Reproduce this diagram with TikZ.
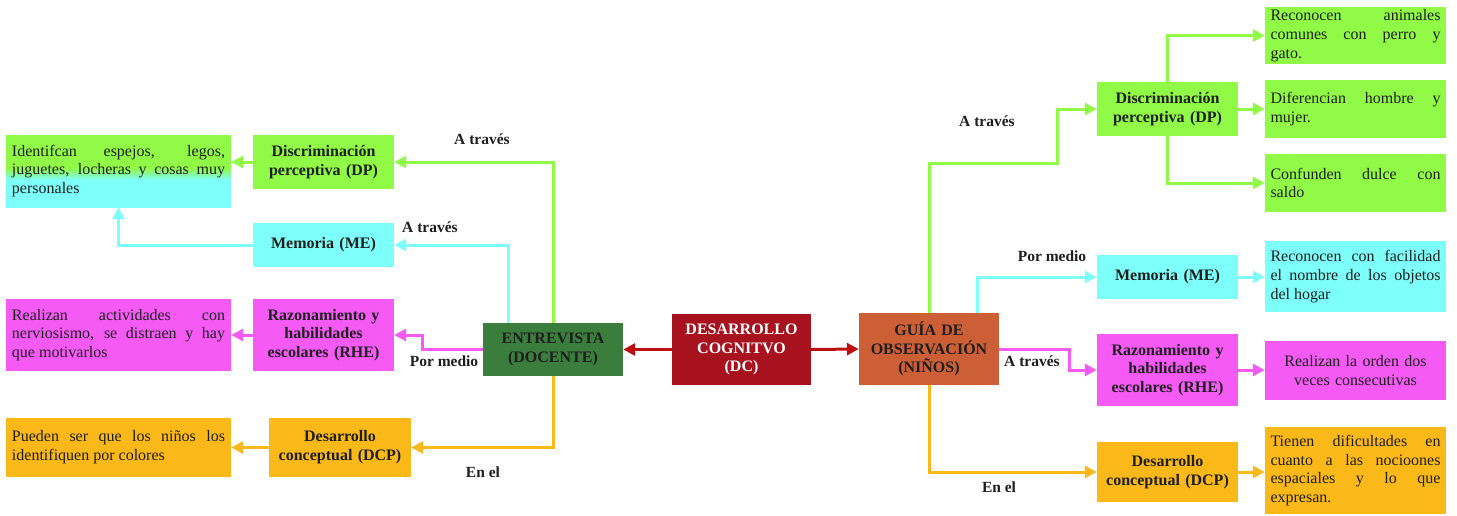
\documentclass[tikz,border=0pt]{standalone}
\usepackage{fontspec}
\setmainfont{Liberation Serif}
\usetikzlibrary{arrows.meta}
\definecolor{gr}{RGB}{145,250,70}
\definecolor{cy}{RGB}{125,255,250}
\definecolor{mg}{RGB}{245,90,245}
\definecolor{orr}{RGB}{250,185,25}
\definecolor{eg}{RGB}{58,125,60}
\definecolor{dr}{RGB}{168,18,30}
\definecolor{gb}{RGB}{205,95,55}
\definecolor{darr}{RGB}{190,15,15}
\definecolor{txt}{RGB}{30,30,30}
\pgfdeclareverticalshading{grcy}{100bp}{color(0bp)=(cy); color(44bp)=(cy); color(52bp)=(gr); color(100bp)=(gr)}
\tikzset{
  bx/.style={rectangle, inner sep=0pt, draw=none, text=txt, font=\fontsize{16}{18.8}\selectfont},
  tb/.style={bx, align=justify},
  lb/.style={bx, align=center, font=\fontsize{16}{18.8}\selectfont\bfseries},
  lab/.style={text=txt, inner sep=0pt, font=\fontsize{15.5}{18}\selectfont\bfseries},
  arr/.style={-{Triangle[length=12pt,width=12pt]}, line width=3pt},
}
\begin{document}
\begin{tikzpicture}[x=1pt,y=-1pt]
\useasboundingbox (0,0) rectangle (1457,515);
% ---------- left side ----------
\node[tb, shading=grcy, minimum width=225pt, minimum height=72pt, text width=213pt] (idL) at (118.5,171)
  {Identifcan espejos, legos,\linebreak juguetes, locheras y cosas muy\linebreak personales};
\node[lb, fill=gr, minimum width=141pt, minimum height=54pt, text width=131pt] (dpL) at (323.5,162)
  {Discriminación\\perceptiva (DP)};
\node[lb, fill=cy, minimum width=141pt, minimum height=44pt, text width=131pt] (meL) at (323.5,245)
  {Memoria (ME)};
\node[tb, fill=mg, minimum width=225pt, minimum height=72pt, text width=213pt] (reL) at (118.5,335)
  {Realizan actividades con\linebreak nerviosismo, se distraen y hay\linebreak que motivarlos};
\node[lb, fill=mg, minimum width=141pt, minimum height=72pt, text width=131pt] (rheL) at (323.5,335)
  {Razonamiento y\\habilidades\\escolares (RHE)};
\node[tb, fill=orr, minimum width=225pt, minimum height=59pt, text width=213pt] (puL) at (118.5,447.5)
  {Pueden ser que los niños los\linebreak identifiquen por colores};
\node[lb, fill=orr, minimum width=142pt, minimum height=59pt, text width=134pt] (dcpL) at (340,447.5)
  {Desarrollo\\conceptual (DCP)};
% ---------- centre ----------
\node[lb, fill=eg, minimum width=140pt, minimum height=53pt, text width=134pt] (ent) at (553,349.5)
  {ENTREVISTA\\(DOCENTE)};
\node[lb, fill=dr, text=white, minimum width=139pt, minimum height=71pt, text width=133pt] (dc) at (741.5,349.5)
  {DESARROLLO\\COGNITVO\\(DC)};
\node[lb, fill=gb, minimum width=140pt, minimum height=72pt, text width=136pt] (gui) at (929,349)
  {GUÍA DE\\OBSERVACIÓN\\(NIÑOS)};
% ---------- right side ----------
\node[lb, fill=gr, minimum width=141pt, minimum height=54pt, text width=131pt] (dpR) at (1167.5,109)
  {Discriminación\\perceptiva (DP)};
\node[tb, fill=gr, minimum width=181pt, minimum height=57pt, text width=170pt] (rec) at (1355.5,35.5)
  {Reconocen animales\linebreak comunes con perro y\linebreak gato.};
\node[tb, fill=gr, minimum width=181pt, minimum height=58pt, text width=170pt] (dif) at (1355.5,109)
  {Diferencian hombre y\linebreak mujer.};
\node[tb, fill=gr, minimum width=181pt, minimum height=58pt, text width=170pt] (con) at (1355.5,183)
  {Confunden dulce con\linebreak saldo};
\node[lb, fill=cy, minimum width=141pt, minimum height=44pt, text width=131pt] (meR) at (1167.5,277)
  {Memoria (ME)};
\node[tb, fill=cy, minimum width=181pt, minimum height=71pt, text width=170pt] (rcf) at (1355.5,276.5)
  {Reconocen con facilidad\linebreak el nombre de los objetos\linebreak del hogar};
\node[lb, fill=mg, minimum width=141pt, minimum height=72pt, text width=131pt] (rheR) at (1167.5,370)
  {Razonamiento y\\habilidades\\escolares (RHE)};
\node[bx, align=center, fill=mg, minimum width=181pt, minimum height=59pt, text width=170pt] (rlo) at (1355.5,370.5)
  {Realizan la orden dos\\veces consecutivas};
\node[lb, fill=orr, minimum width=141pt, minimum height=60pt, text width=135pt] (dcpR) at (1167.5,472)
  {Desarrollo\\conceptual (DCP)};
\node[tb, fill=orr, minimum width=181pt, minimum height=87pt, text width=170pt] (tie) at (1355.5,470.5)
  {Tienen dificultades en\linebreak cuanto a las nocioones\linebreak espaciales y lo que\linebreak expresan.};
% ---------- labels ----------
\node[lab] (l1) at (482,139) {A través};
\node[lab] (l2) at (430,227) {A través};
\node[lab] (l3) at (444,361) {Por medio};
\node[lab] (l4) at (483,472) {En el};
\node[lab] (l5) at (987,121) {A través};
\node[lab] (l6) at (1052,256) {Por medio};
\node[lab] (l7) at (1032,361) {A través};
\node[lab] (l8) at (999,487) {En el};
% ---------- connectors ----------
\coordinate (g1) at (1057,163);
\draw[arr, darr] (dc.west) -- (ent.east);
\draw[arr, darr] (dc.east) -- (gui.west);
% left
\draw[arr, gr] (ent.north) |- (dpL.east);
\draw[arr, cy] ([xshift=-45pt]ent.north) |- (meL.east);
\draw[arr, mg] (ent.west) -- ++(-60,0) |- (rheL.east);
\draw[arr, orr] (ent.south) |- (dcpL.east);
\draw[arr, gr] (dpL.west) -- (dpL.west -| idL.east);
\draw[arr, cy] (meL.west) -| (idL.south);
\draw[arr, mg] (rheL.west) -- (reL.east);
\draw[arr, orr] (dcpL.west) -- (puL.east);
% right
\draw[arr, gr] (gui.north) |- (g1) |- (dpR.west);
\draw[arr, cy] ([xshift=48pt]gui.north) |- (meR.west);
\draw[arr, mg] (gui.east) -- ++(70,0) |- (rheR.west);
\draw[arr, orr] (gui.south) |- (dcpR.west);
\draw[arr, gr] (dpR.north) |- (rec.west);
\draw[arr, gr] (dpR.east) -- (dif.west);
\draw[arr, gr] (dpR.south) |- (con.west);
\draw[arr, cy] (meR.east) -- (meR.east -| rcf.west);
\draw[arr, mg] (rheR.east) -- (rheR.east -| rlo.west);
\draw[arr, orr] (dcpR.east) -- (dcpR.east -| tie.west);
\end{tikzpicture}
\end{document}
